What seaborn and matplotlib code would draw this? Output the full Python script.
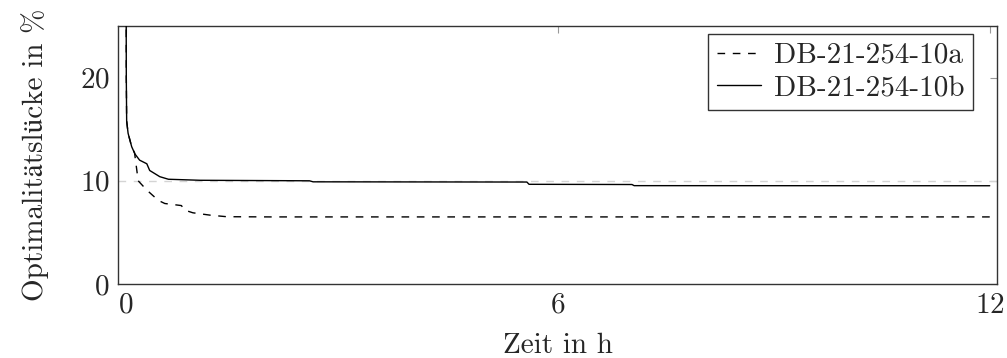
import numpy as np
import pandas as pd
import matplotlib
matplotlib.use("Agg")
import matplotlib.pyplot as plt
import seaborn as sns

# Optimality gap over runtime for two instances
time_a = [0.0, 0.005, 0.01, 0.03, 0.08, 0.12, 0.17, 0.29, 0.45, 0.54, 0.77, 0.82, 0.93,
          1.17, 1.4, 2.0, 6.0, 12.0]
gap_a = [40.0, 20.0, 15.8, 14.6, 13.3, 12.7, 10.0, 9.1, 8.1, 7.8, 7.6, 7.15, 6.9,
         6.67, 6.52, 6.5, 6.5, 6.5]

time_b = [0.0, 0.005, 0.01, 0.03, 0.08, 0.125, 0.19, 0.29, 0.33, 0.40, 0.47, 0.59,
          1.03, 2.55, 2.6, 5.57, 5.6, 7.03, 7.06, 12.0]
gap_b = [40.0, 20.0, 15.8, 14.6, 13.3, 12.6, 12.0, 11.65, 11.0, 10.7, 10.4, 10.15,
         10.05, 10.0, 9.9, 9.88, 9.66, 9.64, 9.53, 9.52]

label_a = "DB-21-254-10a"
label_b = "DB-21-254-10b"
reference_gap = 10

sns.set_theme(style="white")
plt.rcParams["font.family"] = ["cmr10", "STIXGeneral", "DejaVu Serif"]
plt.rcParams["axes.formatter.use_mathtext"] = True
FS = 21

fig = plt.figure(figsize=(10.07, 3.58), dpi=100)
ax = fig.add_axes([0.1172, 0.2067, 0.8728, 0.7207])

ax.axhline(reference_gap, color="#d4d4d4", lw=1.0, linestyle=(0, (5.5, 5.5)), zorder=1)

df_a = pd.DataFrame({"t": time_a, "gap": gap_a})
df_b = pd.DataFrame({"t": time_b, "gap": gap_b})
sns.lineplot(data=df_a, x="t", y="gap", ax=ax, color="black", lw=1.0,
             linestyle=(0, (5.5, 5.5)), label=label_a, zorder=3)
sns.lineplot(data=df_b, x="t", y="gap", ax=ax, color="black", lw=1.0,
             label=label_b, zorder=4)

ax.set_xlim(-0.11, 12.1)
ax.set_ylim(0, 25)
ax.set_xticks([0, 6, 12])
ax.set_yticks([0, 10, 20])
ax.set_xlabel("Zeit in h", fontsize=FS, labelpad=10)
ax.set_ylabel("Optimalitätslücke in %", fontsize=FS, labelpad=22)

ax.tick_params(axis="both", direction="in", length=5, width=0.8, color="#999999",
               top=True, right=True, labelsize=FS, pad=6)
for s in ax.spines.values():
    s.set_color("#333333")
    s.set_linewidth(1.0)

leg = ax.legend(loc="upper right", bbox_to_anchor=(0.973, 0.97), frameon=True,
                fancybox=False, fontsize=FS, handlelength=1.5, handletextpad=0.45,
                borderpad=0.3, labelspacing=0.2, borderaxespad=0.0)
leg.get_frame().set_edgecolor("black")
leg.get_frame().set_linewidth(1.0)

fig.savefig("out.png", dpi=100)
